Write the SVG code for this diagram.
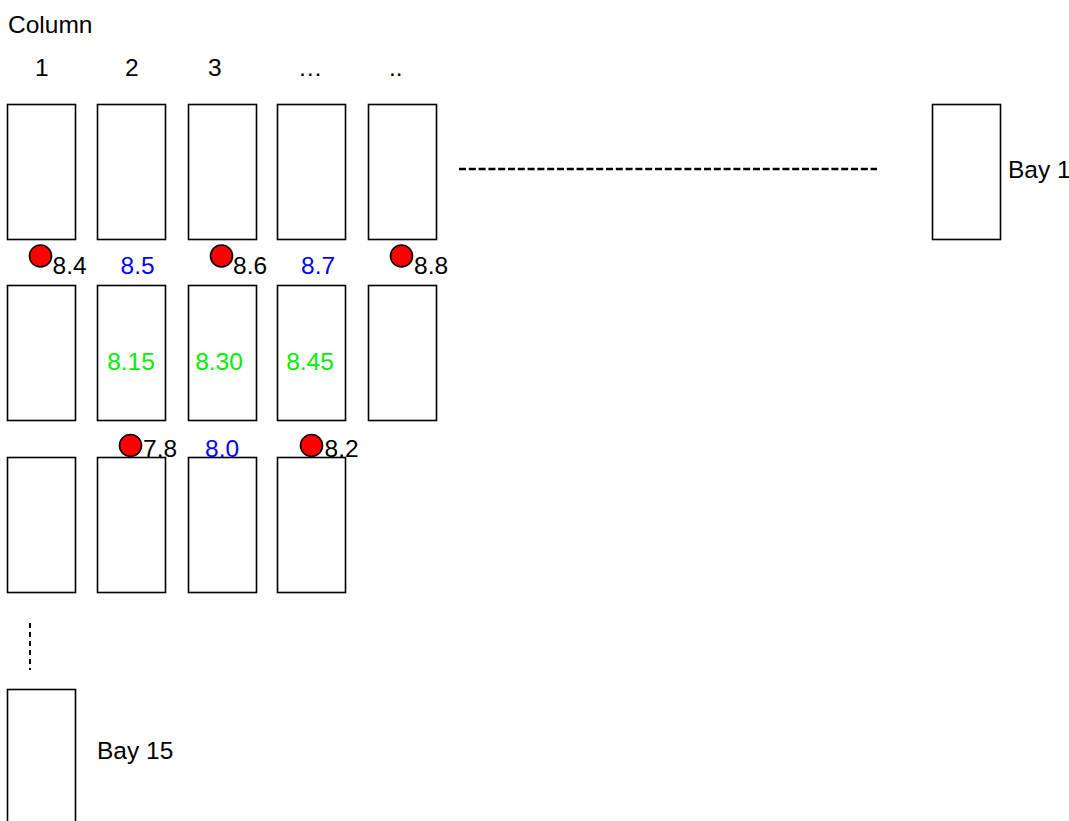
<svg xmlns="http://www.w3.org/2000/svg" width="1069" height="821" viewBox="0 0 1069 821">
<style>
.bay{fill:#fff;stroke:#000;stroke-width:1.6}
.t{font-family:"Liberation Sans",Arial,sans-serif;font-size:24.5px;fill:#000}
.b{fill:#0000ff}
.g{fill:#00ee00}
.dot{fill:#ff0000;stroke:#000;stroke-width:1.6}
.dash{stroke:#000;fill:none}
</style>
<rect width="1069" height="821" fill="#fff"/>
<g id="labels">
<text class="t" x="8" y="33">Column</text>
<text class="t" x="35" y="76">1</text>
<text class="t" x="125" y="76">2</text>
<text class="t" x="208" y="76">3</text>
<text class="t" x="298" y="76">…</text>
<text class="t" x="389" y="76">..</text>
<text class="t" x="1008" y="178">Bay 1</text>
<text class="t" x="97" y="759">Bay 15</text>
</g>
<g id="row1">
<rect id="r1c1" class="bay" x="7.5" y="104.5" width="68" height="135"/>
<rect id="r1c2" class="bay" x="97.5" y="104.5" width="68" height="135"/>
<rect id="r1c3" class="bay" x="188.5" y="104.5" width="68" height="135"/>
<rect id="r1c4" class="bay" x="277.5" y="104.5" width="68" height="135"/>
<rect id="r1c5" class="bay" x="368.5" y="104.5" width="68" height="135"/>
<rect id="r1last" class="bay" x="932.5" y="104.5" width="68" height="135"/>
</g>
<g id="row2">
<rect id="r2c1" class="bay" x="7.5" y="285.5" width="68" height="135"/>
<rect id="r2c2" class="bay" x="97.5" y="285.5" width="68" height="135"/>
<rect id="r2c3" class="bay" x="188.5" y="285.5" width="68" height="135"/>
<rect id="r2c4" class="bay" x="277.5" y="285.5" width="68" height="135"/>
<rect id="r2c5" class="bay" x="368.5" y="285.5" width="68" height="135"/>
<text class="t g" x="131" y="370" text-anchor="middle">8.15</text>
<text class="t g" x="219" y="370" text-anchor="middle">8.30</text>
<text class="t g" x="310" y="370" text-anchor="middle">8.45</text>
</g>
<g id="row3">
<rect id="r3c1" class="bay" x="7.5" y="457.5" width="68" height="135"/>
<rect id="r3c2" class="bay" x="97.5" y="457.5" width="68" height="135"/>
<rect id="r3c3" class="bay" x="188.5" y="457.5" width="68" height="135"/>
<rect id="r3c4" class="bay" x="277.5" y="457.5" width="68" height="135"/>
</g>
<g id="bay15">
<rect class="bay" x="7.5" y="689.5" width="68" height="140"/>
</g>
<g id="markers1">
<circle class="dot" cx="40.5" cy="256" r="11"/>
<text class="t" x="52.5" y="274">8.4</text>
<text class="t b" x="120.5" y="274">8.5</text>
<circle class="dot" cx="221.5" cy="256" r="11"/>
<text class="t" x="233" y="274">8.6</text>
<text class="t b" x="301" y="274">8.7</text>
<circle class="dot" cx="401.5" cy="256" r="11"/>
<text class="t" x="414" y="274">8.8</text>
</g>
<g id="markers2">
<circle class="dot" cx="130.5" cy="445.5" r="11"/>
<text class="t" x="143" y="457">7.8</text>
<text class="t b" x="205" y="457">8.0</text>
<circle class="dot" cx="311.5" cy="445.5" r="11"/>
<text class="t" x="324.5" y="457">8.2</text>
</g>
<g id="connectors">
<line class="dash" x1="459" y1="169" x2="877" y2="169" stroke-width="2.5" stroke-dasharray="7 2.8"/>
<line class="dash" x1="30" y1="623" x2="30" y2="670" stroke-width="2" stroke-dasharray="5 4"/>
</g>
</svg>
